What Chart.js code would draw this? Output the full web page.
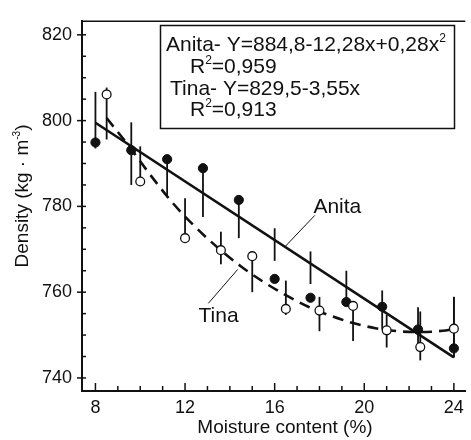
<!DOCTYPE html>
<html>
<head>
<meta charset="utf-8">
<script src="https://cdn.jsdelivr.net/npm/chart.js@4.4.1/dist/chart.umd.min.js"></script>
<style>
  html, body { margin: 0; padding: 0; background: #fff; }
  #wrap { width: 471px; height: 440px; }
</style>
</head>
<body>
<div id="wrap"><canvas id="densityChart" width="471" height="440"></canvas></div>
<script>
// values
const anitaMoisture = [8.0, 9.6, 11.2, 12.8, 14.4, 16.0, 17.6, 19.2, 20.8, 22.4, 24.0];
const anitaDensity  = [794.9, 793.1, 791.0, 788.9, 781.5, 763.1, 758.7, 757.7, 756.6, 751.3, 746.9];
const anitaErrLow   = [793.5, 785.0, 782.1, 777.5, 772.6, 767.3, 761.9, 758.1, 751.3, 747.0, 744.8];
const anitaErrHigh  = [806.7, 799.6, 791.0, 788.9, 781.5, 774.9, 769.5, 765.0, 760.4, 756.5, 758.9];

const tinaMoisture = [8.5, 10.0, 12.0, 13.6, 15.0, 16.5, 18.0, 19.5, 21.0, 22.5, 24.0];
const tinaDensity  = [806.1, 785.8, 772.6, 769.8, 768.4, 756.1, 755.7, 756.8, 751.1, 747.2, 751.5];
const tinaErrLow   = [795.6, 785.8, 772.6, 766.5, 760.0, 754.7, 750.9, 748.6, 747.1, 744.1, 744.8];
const tinaErrHigh  = [807.7, 794.0, 781.9, 774.1, 768.4, 762.7, 758.9, 756.8, 754.7, 755.5, 758.9];

// fitted lines as drawn
const anitaFitX = [8, 24];
const anitaFitY = [799.5, 744.8];
const tinaFitX = [8.5, 9.5, 10.5, 11.5, 12.5, 13.5, 14.5, 15.5, 16.5, 17.5, 18.5, 19.5, 20.5, 21.5, 22.5, 23.5, 24];
const tinaFitY = [800.6, 794.0, 787.0, 780.5, 775.0, 770.2, 766.0, 762.4, 759.3, 756.6, 754.5, 752.8, 751.6, 750.9, 750.7, 751.0, 751.4];

const xTicks = [8, 12, 16, 20, 24];
const yTicks = [740, 760, 780, 800, 820];

const FONT = '"Liberation Sans", Arial, Helvetica, sans-serif';
const INK = '#111';

function toPoints(xs, ys) {
    return xs.map((x, i) => ({ x: x, y: ys[i] }));
}

// draws a string made of normal and superscript pieces
function drawRich(ctx, parts, x, y, size) {
    let cx = x;
    parts.forEach(([txt, sup]) => {
        let s = sup ? Math.round(size * 0.55) : size;
        ctx.font = s + 'px ' + FONT;
        ctx.fillText(txt, cx, sup ? y - size * 0.42 : y);
        cx += ctx.measureText(txt).width;
    });
    return cx - x;
}

function richWidth(ctx, parts, size) {
    let w = 0;
    parts.forEach(([txt, sup]) => {
        ctx.font = (sup ? Math.round(size * 0.55) : size) + 'px ' + FONT;
        w += ctx.measureText(txt).width;
    });
    return w;
}

const extras = {
    id: 'extras',
    beforeDatasetsDraw(chart) {
        const { ctx, scales: { x, y } } = chart;
        ctx.save();
        ctx.strokeStyle = INK;
        ctx.lineWidth = 1.8;
        const bars = (xs, lo, hi) => {
            xs.forEach((v, i) => {
                const px = x.getPixelForValue(v);
                ctx.beginPath();
                ctx.moveTo(px, y.getPixelForValue(lo[i]));
                ctx.lineTo(px, y.getPixelForValue(hi[i]));
                ctx.stroke();
            });
        };
        bars(anitaMoisture, anitaErrLow, anitaErrHigh);
        bars(tinaMoisture, tinaErrLow, tinaErrHigh);
        ctx.restore();
    },
    afterDraw(chart) {
        const { ctx, chartArea: a, scales: { x, y } } = chart;
        ctx.save();
        ctx.strokeStyle = INK;
        ctx.fillStyle = INK;

        // top frame line
        ctx.lineWidth = 1.5;
        ctx.beginPath();
        ctx.moveTo(a.left, a.top + 0.5);
        ctx.lineTo(a.right, a.top + 0.5);
        ctx.stroke();

        // tick marks
        ctx.lineWidth = 1.5;
        for (let v = 740; v <= 820; v += 5) {
            const py = y.getPixelForValue(v);
            const major = v % 20 === 0;
            ctx.beginPath();
            ctx.moveTo(a.left - (major ? 5 : 0), py);
            ctx.lineTo(a.left + 4, py);
            ctx.stroke();
        }
        for (let v = 8; v <= 24; v += 1) {
            const px = x.getPixelForValue(v);
            const major = v % 4 === 0;
            ctx.beginPath();
            ctx.moveTo(px, a.bottom);
            ctx.lineTo(px, a.bottom - (major ? 8 : 5));
            ctx.stroke();
        }

        // equation box
        ctx.lineWidth = 1.5;
        ctx.strokeRect(160.5, 25.5, 294, 103);
        ctx.textAlign = 'left';
        ctx.textBaseline = 'alphabetic';
        drawRich(ctx, [['Anita- Y=884,8-12,28x+0,28x', false], ['2', true]], 166, 51, 21);
        drawRich(ctx, [['R', false], ['2', true], ['=0,959', false]], 190, 73, 21);
        drawRich(ctx, [['Tina- Y=829,5-3,55x', false]], 170, 95, 21);
        drawRich(ctx, [['R', false], ['2', true], ['=0,913', false]], 190, 116, 21);

        // curve labels with leader lines
        ctx.lineWidth = 1;
        ctx.beginPath();
        ctx.moveTo(x.getPixelForValue(17.79), y.getPixelForValue(777.9));
        ctx.lineTo(x.getPixelForValue(16.48), y.getPixelForValue(770.7));
        ctx.moveTo(x.getPixelForValue(13.04), y.getPixelForValue(757.4));
        ctx.lineTo(x.getPixelForValue(14.35), y.getPixelForValue(765.3));
        ctx.stroke();
        ctx.font = '21px ' + FONT;
        ctx.fillText('Anita', x.getPixelForValue(17.73), y.getPixelForValue(778.5));
        ctx.fillText('Tina', x.getPixelForValue(12.6), y.getPixelForValue(753.1));

        // axis titles
        ctx.font = '19px ' + FONT;
        ctx.textAlign = 'center';
        ctx.fillText('Moisture content (%)', 285, 433);

        const yTitle = [['Density (kg \u00b7 m', false], ['-3', true], [')', false]];
        ctx.translate(28, 196);
        ctx.rotate(-Math.PI / 2);
        ctx.textAlign = 'left';
        const w = richWidth(ctx, yTitle, 19);
        drawRich(ctx, yTitle, -w / 2, 0, 19);
        ctx.restore();
    }
};

const ctx = document.getElementById('densityChart').getContext('2d');
const densityChart = new Chart(ctx, {
    type: 'scatter',
    data: {
        datasets: [
            {
                label: 'Tina',
                data: toPoints(tinaMoisture, tinaDensity),
                pointRadius: 4.4,
                pointBackgroundColor: '#fff',
                pointBorderColor: INK,
                pointBorderWidth: 1.3
            },
            {
                label: 'Anita',
                data: toPoints(anitaMoisture, anitaDensity),
                pointRadius: 4.6,
                pointBackgroundColor: INK,
                pointBorderColor: INK,
                pointBorderWidth: 1
            },
            {
                label: 'Tina fit',
                data: toPoints(tinaFitX, tinaFitY),
                showLine: true,
                pointRadius: 0,
                borderColor: INK,
                borderWidth: 2.6,
                borderDash: [11, 7],
                cubicInterpolationMode: 'monotone'
            },
            {
                label: 'Anita fit',
                data: toPoints(anitaFitX, anitaFitY),
                showLine: true,
                pointRadius: 0,
                borderColor: INK,
                borderWidth: 2.6
            }
        ]
    },
    options: {
        responsive: false,
        animation: false,
        devicePixelRatio: 1,
        layout: { padding: { top: 13, right: 0, left: 0, bottom: 0 } },
        scales: {
            x: {
                type: 'linear',
                min: 7.4,
                max: 24.51,
                afterBuildTicks: s => { s.ticks = xTicks.map(v => ({ value: v })); },
                afterFit: s => { s.height = 49; },
                grid: { display: false, drawTicks: false, tickLength: 0 },
                border: { color: INK, width: 2 },
                ticks: { padding: 6, color: INK, font: { size: 18, family: FONT }, maxRotation: 0 }
            },
            y: {
                type: 'linear',
                min: 736.96,
                max: 823.27,
                afterBuildTicks: s => { s.ticks = yTicks.map(v => ({ value: v })); },
                afterFit: s => { s.width = 82; },
                grid: { display: false, drawTicks: false, tickLength: 0 },
                border: { color: INK, width: 2 },
                ticks: { padding: 10, color: INK, font: { size: 18, family: FONT } }
            }
        },
        plugins: {
            legend: { display: false },
            tooltip: { enabled: false }
        }
    },
    plugins: [extras]
});
</script>
</body>
</html>
